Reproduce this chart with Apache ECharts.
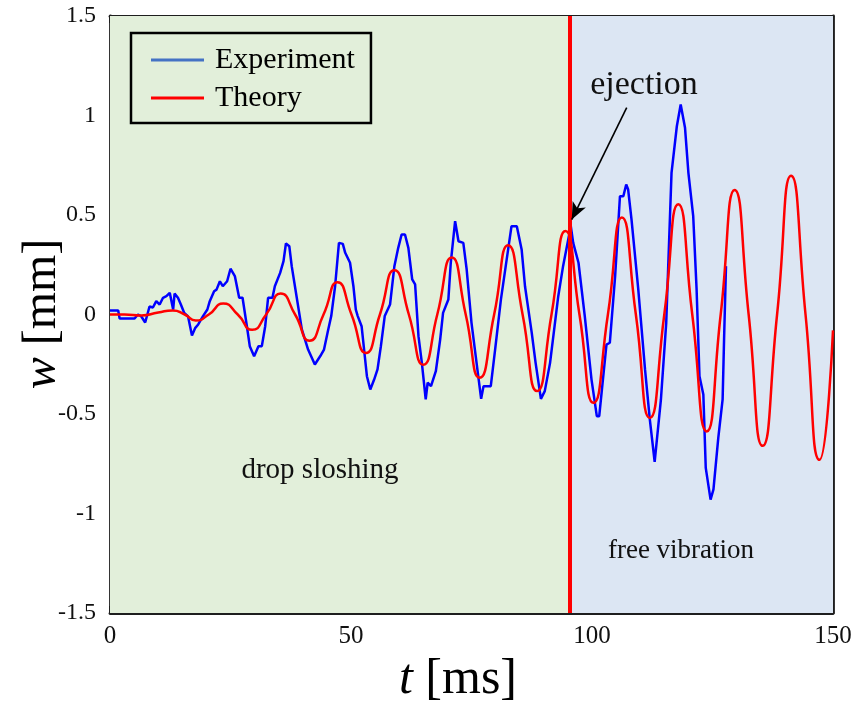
<!DOCTYPE html>
<html>
<head>
<meta charset="utf-8">
<script src="https://cdn.jsdelivr.net/npm/echarts@6/dist/echarts.min.js"></script>
<style>html,body{margin:0;padding:0;background:#fff}#c{width:859px;height:707px}</style>
</head>
<body>
<div id="c"></div>
<script>
// ---- data ----
var xTicks = [0, 50, 100, 150];
var yTicks = [-1.5, -1, -0.5, 0, 0.5, 1, 1.5];
var ejectT = 95.3;
var seriesNames = ['Experiment', 'Theory'];

var expT = [0,1.7,2,5.1,5.8,6.5,7.3,8.2,8.9,9.6,10.3,11,11.7,12.4,12.8,13.1,13.4,14.1,14.7,15.4,16.2,17,17.7,18.3,19.3,20.2,20.7,21.6,22.1,22.8,23.4,24.3,25,25.9,26.8,27.5,28.4,29,29.9,30.8,31.5,32.2,32.8,33.7,34.2,35.3,36,36.5,37.2,37.7,38.7,39.8,41.1,42.5,43.6,44.4,45.2,45.9,46.7,47.5,48.3,48.8,49.8,50.5,51,51.4,52.2,53.3,54,54.8,55.5,56.2,57,58.1,59,59.8,60.5,61.2,61.9,62.7,63.3,64,64.7,65.5,65.9,66.6,67.6,68.5,69.1,70.2,70.7,71.6,72.3,73.3,74,75,76.4,77,77.5,79,79.9,81.1,82.1,83.3,84.4,85.4,86.1,87.5,88.3,89.4,90.2,91.3,93,94,95.6,96.1,97.2,98.5,99.9,101,101.5,103,103.7,104.8,105.8,106.5,107.1,107.5,108.2,109.6,111,112,113,114.3,115.4,116.5,117.6,118.4,119.3,120,121,121.7,122.3,123.1,123.6,124.6,125.2,126.2,127.1,127.4,127.8];
var expW = [0.02,0.02,-0.02,-0.02,0,-0.01,-0.04,0.04,0.035,0.067,0.05,0.084,0.092,0.109,0.105,0.025,0.105,0.084,0.05,0.008,-0.01,-0.105,-0.067,-0.05,-0.008,0.025,0.067,0.117,0.125,0.167,0.142,0.167,0.23,0.193,0.084,0.084,-0.059,-0.159,-0.21,-0.159,-0.159,-0.059,0.084,0.084,0.142,0.209,0.268,0.357,0.343,0.243,0.092,-0.075,-0.176,-0.251,-0.21,-0.176,-0.084,-0.008,0.142,0.36,0.355,0.31,0.26,0.142,0.025,-0.008,-0.059,-0.31,-0.377,-0.327,-0.276,-0.159,-0.008,0.05,0.243,0.335,0.402,0.402,0.335,0.176,0.151,-0.109,-0.243,-0.427,-0.343,-0.36,-0.285,-0.126,0.008,0.075,0.26,0.469,0.368,0.36,0.226,-0.042,-0.31,-0.424,-0.36,-0.36,-0.176,0.075,0.243,0.444,0.444,0.327,0.142,-0.092,-0.243,-0.424,-0.385,-0.243,0.092,0.243,0.444,0.36,0.26,-0.008,-0.327,-0.511,-0.511,-0.151,-0.142,0.193,0.594,0.594,0.653,0.628,0.477,0.126,-0.276,-0.528,-0.74,-0.427,-0.042,0.712,0.946,1.055,0.938,0.712,0.494,0.126,-0.31,-0.402,-0.771,-0.93,-0.879,-0.62,-0.427,-0.126,0.243];

var theoT = [0,3,6.5,10,13,15.5,17.8,20.5,23.5,26.5,29.5,32.4,35.4,38.4,41.4,44.3,47.2,50.1,53.1,56.0,59.0,62.0,65.0,67.9,70.9,73.8,76.7,79.7,82.6,85.6,88.6,91.6,94.5,97.4,100.3,103.3,106.2,109.1,112.0,115.0,117.9,120.8,123.8,126.7,129.6,132.5,135.4,138.4,141.3,144.3,147.2,150];
var theoW = [0,0,-0.005,0.01,0.02,0,-0.03,0,0.055,0,-0.077,0,0.105,0,-0.132,0,0.162,0,-0.193,0,0.222,0,-0.252,0,0.286,0,-0.318,0,0.348,0,-0.385,0,0.42,0,-0.444,0,0.487,0,-0.52,0,0.554,0,-0.588,0,0.626,0,-0.66,0,0.697,0,-0.73,-0.08];

// arrow annotation (data coordinates): tail -> tip
var arrowTail = [107.2, 1.04];
var arrowTip = [95.8, 0.477];

function pairs(a, b) { return a.map(function (v, i) { return [v, b[i]]; }); }

var FONT = 'Liberation Serif';
var axisCol = '#1e1e1e';

function xAx(pos, showLabel) {
  return {
    type: 'value', position: pos, min: 0, max: 150, interval: 50,
    axisLine: { show: true, onZero: false, lineStyle: { color: axisCol, width: 2.8 } },
    axisTick: { show: true, inside: true, length: 7, lineStyle: { color: axisCol, width: 2 } },
    axisLabel: { show: showLabel, fontFamily: FONT, fontSize: 25, color: '#111', margin: 11 },
    splitLine: { show: false }
  };
}
function yAx(pos, showLabel) {
  return {
    type: 'value', position: pos, min: -1.5, max: 1.5, interval: 0.5,
    axisLine: { show: true, onZero: false, lineStyle: { color: axisCol, width: 2.8 } },
    axisTick: { show: true, inside: true, length: 7, lineStyle: { color: axisCol, width: 2 } },
    axisLabel: { show: showLabel, fontFamily: FONT, fontSize: 24, color: '#111', margin: 14 },
    splitLine: { show: false }
  };
}

var chart = echarts.init(document.getElementById('c'), null, { renderer: 'canvas' });
chart.setOption({
  animation: false,
  backgroundColor: '#ffffff',
  grid: { left: 110, right: 26, top: 16, bottom: 94, containLabel: false },
  xAxis: [xAx('bottom', true), xAx('top', false)],
  yAxis: [yAx('left', true), yAx('right', false)],
  legend: {
    data: [
      { name: seriesNames[0], itemStyle: { color: '#4472c4' } },
      { name: seriesNames[1], itemStyle: { color: '#ff0000' } }
    ],
    orient: 'vertical', left: 131, top: 33,
    icon: 'rect', itemWidth: 53, itemHeight: 3, itemGap: 8,
    padding: [12, 16, 10, 20],
    borderColor: '#000', borderWidth: 2.5, borderRadius: 0,
    backgroundColor: 'rgba(0,0,0,0)',
    textStyle: { fontFamily: FONT, fontSize: 30, color: '#000', lineHeight: 30, padding: [0, 0, 0, 6] }
  },
  series: [
    {
      name: 'bg', type: 'line', z: 1, silent: true, showSymbol: false,
      data: [[0, 0]], lineStyle: { opacity: 0 },
      markArea: {
        silent: true,
        data: [
          [{ xAxis: 0, itemStyle: { color: '#e2efda' } }, { xAxis: ejectT }],
          [{ xAxis: ejectT, itemStyle: { color: '#dce6f3' } }, { xAxis: 150 }]
        ]
      }
    },
    {
      name: seriesNames[0], type: 'line', z: 3, showSymbol: false, symbol: 'none',
      data: pairs(expT, expW),
      lineStyle: { color: '#0000ff', width: 2.5 }, itemStyle: { color: '#0000ff' }
    },
    {
      name: seriesNames[1], type: 'line', z: 4, showSymbol: false, symbol: 'none', smooth: 0.58,
      data: pairs(theoT, theoW),
      lineStyle: { color: '#ff0000', width: 2.5 }, itemStyle: { color: '#ff0000' },
      markLine: {
        silent: true, symbol: ['none', 'none'], label: { show: false },
        lineStyle: { color: '#ff0000', width: 4, type: 'solid' },
        data: [{ xAxis: ejectT }]
      }
    },
    {
      name: 'annot', type: 'line', z: 6, silent: true, showSymbol: false,
      data: [[0, 0]], lineStyle: { opacity: 0 },
      markLine: {
        silent: true, symbol: ['none', 'arrow'], symbolSize: [11, 17], label: { show: false },
        lineStyle: { color: '#000', width: 1.6, type: 'solid' },
        itemStyle: { color: '#000' },
        data: [[{ coord: arrowTail }, { coord: arrowTip }]]
      }
    }
  ],
  graphic: [
    { type: 'text', x: 320, y: 470, z: 10, style: { text: 'drop sloshing', fontFamily: FONT, fontSize: 29, fill: '#111', align: 'center', verticalAlign: 'middle' } },
    { type: 'text', x: 681, y: 551, z: 10, style: { text: 'free vibration', fontFamily: FONT, fontSize: 27, fill: '#111', align: 'center', verticalAlign: 'middle' } },
    { type: 'text', x: 644, y: 85, z: 10, style: { text: 'ejection', fontFamily: FONT, fontSize: 34, fill: '#111', align: 'center', verticalAlign: 'middle' } },
    { type: 'text', x: 458, y: 680, z: 10, style: { text: '{i|t} [ms]', fontFamily: FONT, fontSize: 50, fill: '#000', align: 'center', verticalAlign: 'middle', rich: { i: { fontFamily: FONT, fontSize: 50, fontStyle: 'italic', fill: '#000' } } } },
    { type: 'text', x: 42, y: 314, rotation: Math.PI / 2, z: 10, style: { text: '{i|w} [mm]', fontFamily: FONT, fontSize: 48, fill: '#000', align: 'center', verticalAlign: 'middle', rich: { i: { fontFamily: FONT, fontSize: 48, fontStyle: 'italic', fill: '#000' } } } }
  ]
});
</script>
</body>
</html>
